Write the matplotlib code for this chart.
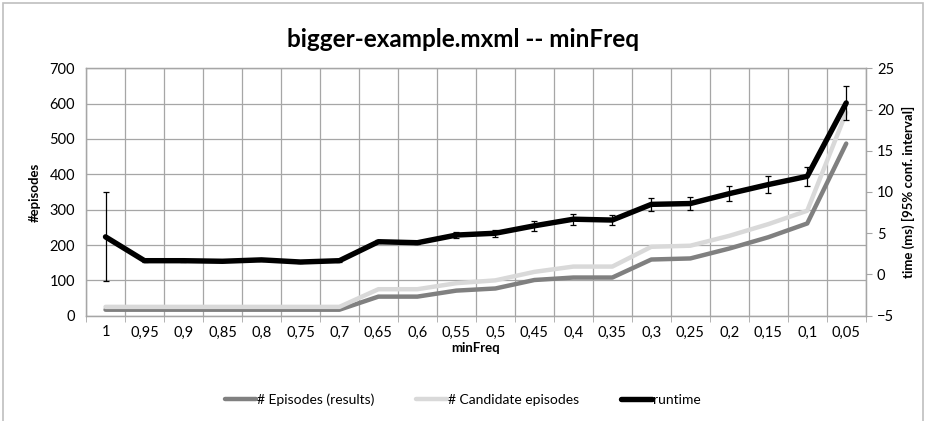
"""bigger-example.mxml -- minFreq: episodios y tiempo de ejecucion."""

import matplotlib.pyplot as plt
import numpy as np
from matplotlib.lines import Line2D
from matplotlib.patches import Rectangle

plt.rcParams["font.family"] = ["Lato", "DejaVu Sans"]

min_freq = ["1", "0,95", "0,9", "0,85", "0,8", "0,75", "0,7", "0,65", "0,6", "0,55",
            "0,5", "0,45", "0,4", "0,35", "0,3", "0,25", "0,2", "0,15", "0,1", "0,05"]
episodes_results = [17, 17, 17, 17, 17, 17, 17, 54, 54, 71,
                    77, 101, 108, 108, 159, 162, 190, 222, 261, 487]
candidate_episodes = [25, 25, 25, 25, 25, 25, 25, 75, 75, 92,
                      100, 124, 139, 139, 195, 198, 226, 259, 297, 575]
runtime_ms = [4.56, 1.67, 1.67, 1.6, 1.77, 1.51, 1.67, 3.97, 3.85, 4.78,
              5.0, 5.9, 6.7, 6.6, 8.5, 8.6, 9.8, 10.9, 11.9, 20.8]
runtime_ci = [5.4, 0.1, 0.1, 0.1, 0.1, 0.1, 0.1, 0.2, 0.2, 0.35,
              0.4, 0.57, 0.65, 0.6, 0.8, 0.8, 0.9, 1.0, 1.17, 2.06]

DARK = "#808080"
LIGHT = "#d9d9d9"
GRID = "#a6a6a6"

x = np.arange(len(min_freq))

fig = plt.figure(figsize=(9.26, 4.21), dpi=100)
ax = fig.add_axes([0.0929, 0.2501, 0.842, 0.5877])
ax2 = ax.twinx()

ax.plot(x, episodes_results, color=DARK, linewidth=3.2, solid_capstyle="round", zorder=3)
ax.plot(x, candidate_episodes, color=LIGHT, linewidth=3.2, solid_capstyle="round", zorder=3)
ax2.errorbar(x, runtime_ms, yerr=runtime_ci, color="black", linewidth=3.9,
             ecolor="black", elinewidth=0.9, capsize=2.5, capthick=0.9, zorder=4,
             solid_capstyle="round")

ax.set_xlim(-0.5, len(min_freq) - 0.5)
ax.set_ylim(0, 700)
ax.set_yticks(np.arange(0, 701, 100))
ax2.set_ylim(-5, 25)
ax2.set_yticks(np.arange(-5, 26, 5))

ax.set_xticks(x)
ax.set_xticklabels(min_freq)
ax.set_xticks(np.arange(-0.5, len(min_freq), 1), minor=True)
ax.tick_params(axis="x", which="major", length=0, labelsize=10.5, pad=7)
ax.tick_params(axis="x", which="minor", length=4, color=GRID)
ax.tick_params(axis="y", length=0, labelsize=10.5, pad=8)
ax2.tick_params(axis="y", length=4, color=GRID, labelsize=10.5, pad=4)

ax.grid(True, axis="y", color=GRID, linewidth=0.9)
ax.grid(True, axis="x", which="minor", color=GRID, linewidth=0.9)
ax.set_axisbelow(True)
for a in (ax, ax2):
    for s in a.spines.values():
        s.set_color(GRID)
        s.set_linewidth(0.9)

ax.set_xlabel("minFreq", fontsize=9.5, fontweight="bold", labelpad=2)
ax.set_ylabel("#episodes", fontsize=9.5, fontweight="bold", labelpad=6)
ax2.set_ylabel("time (ms) [95% conf. interval]", fontsize=9.5, fontweight="bold", labelpad=6)

fig.text(0.5, 0.905, "bigger-example.mxml -- minFreq", ha="center", va="center",
         fontsize=17.5, fontweight="bold")

handles = [
    Line2D([], [], color=DARK, linewidth=3.2, solid_capstyle="round"),
    Line2D([], [], color=LIGHT, linewidth=3.2, solid_capstyle="round"),
    Line2D([], [], color="black", linewidth=3.9, solid_capstyle="round"),
]
labels = ["# Episodes (results)", "# Candidate episodes", "runtime"]
fig.legend(handles, labels, loc="center", bbox_to_anchor=(0.5, 0.05), ncol=3,
           frameon=False, fontsize=10, handlelength=2.2, handletextpad=0.1,
           columnspacing=3.0)

# marco del grafico
fig.patches.append(Rectangle((3 / 926, -0.05), 920 / 926, 1.05 - 3 / 421,
                             transform=fig.transFigure, fill=False,
                             edgecolor="#bfbfbf", linewidth=1.2))

fig.savefig("out.png", dpi=100)
